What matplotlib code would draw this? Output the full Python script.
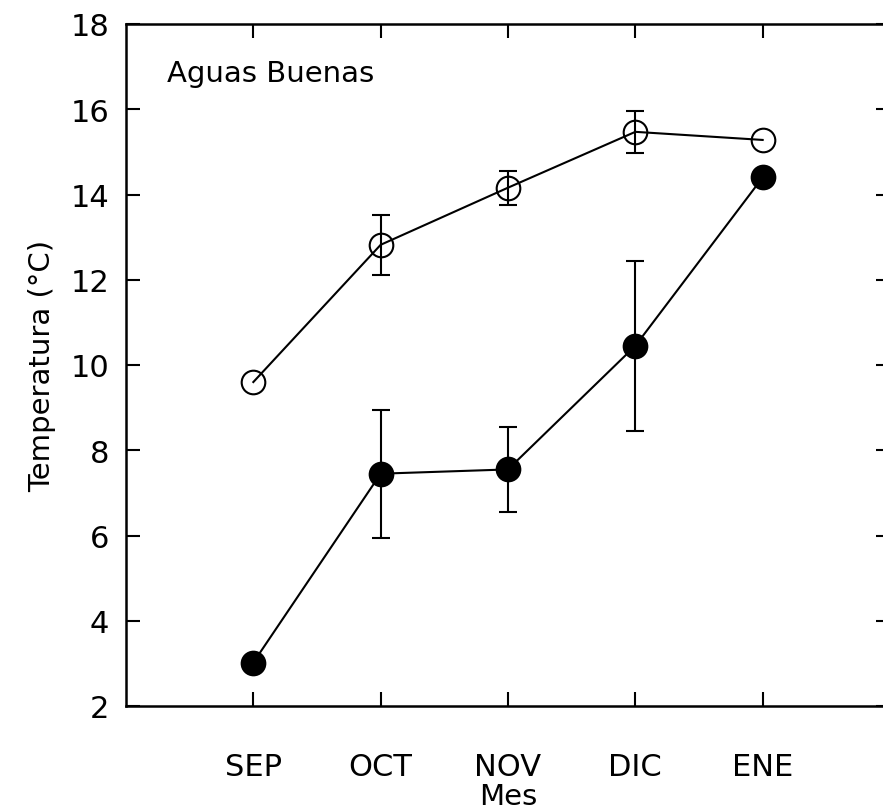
import matplotlib
matplotlib.use("Agg")
import matplotlib.pyplot as plt
import numpy as np

months = ["SEP", "OCT", "NOV", "DIC", "ENE"]
open_vals = [9.6, 12.82, 14.16, 15.47, 15.28]
open_err = [0.0, 0.71, 0.40, 0.50, 0.0]
filled_vals = [3.02, 7.45, 7.55, 10.45, 14.40]
filled_err = [0.0, 1.50, 1.00, 2.00, 0.0]
yticks = [2, 4, 6, 8, 10, 12, 14, 16, 18]

plt.rcParams['font.family'] = ['DejaVu Sans']

fig = plt.figure(figsize=(8.83, 8.12), dpi=100)
ax = fig.add_axes([126/883, 105/812, (890-126)/883, (707-25)/812])

x = np.arange(len(months))

def errs(v, e):
    ex = [i for i in range(len(v)) if e[i] > 0]
    return ex, [v[i] for i in ex], [e[i] for i in ex]

ex, ev, ee = errs(open_vals, open_err)
ax.errorbar(ex, ev, yerr=ee, fmt='none', ecolor='black', elinewidth=1.5, capsize=6.5, capthick=1.5, zorder=2)
ex, ev, ee = errs(filled_vals, filled_err)
ax.errorbar(ex, ev, yerr=ee, fmt='none', ecolor='black', elinewidth=1.5, capsize=6.5, capthick=1.5, zorder=2)

ax.plot(x, open_vals, color='black', lw=1.5, marker='o', ms=17, mfc='none', mec='black', mew=1.5, zorder=3)
ax.plot(x, filled_vals, color='black', lw=1.5, marker='o', ms=17, mfc='black', mec='black', mew=1.5, zorder=3)

ax.set_xlim(-1, 5)
ax.set_ylim(2, 18)
ax.set_yticks(yticks)
ax.set_xticks(x)
ax.set_xticklabels(months)

ax.tick_params(axis='both', direction='in', length=10, width=1.5, labelsize=22)
ax.tick_params(axis='x', top=True, pad=33)
ax.tick_params(axis='y', right=True, pad=12)
for s in ax.spines.values():
    s.set_linewidth(1.8)

ax.set_ylabel("Temperatura (°C)", fontsize=21, labelpad=10)
ax.set_xlabel("Mes", fontsize=21, labelpad=1)

ax.text(167/883, 1 - 82/812, "Aguas Buenas", transform=fig.transFigure, fontsize=21, ha='left', va='baseline')

fig.savefig("out.png", dpi=100)
